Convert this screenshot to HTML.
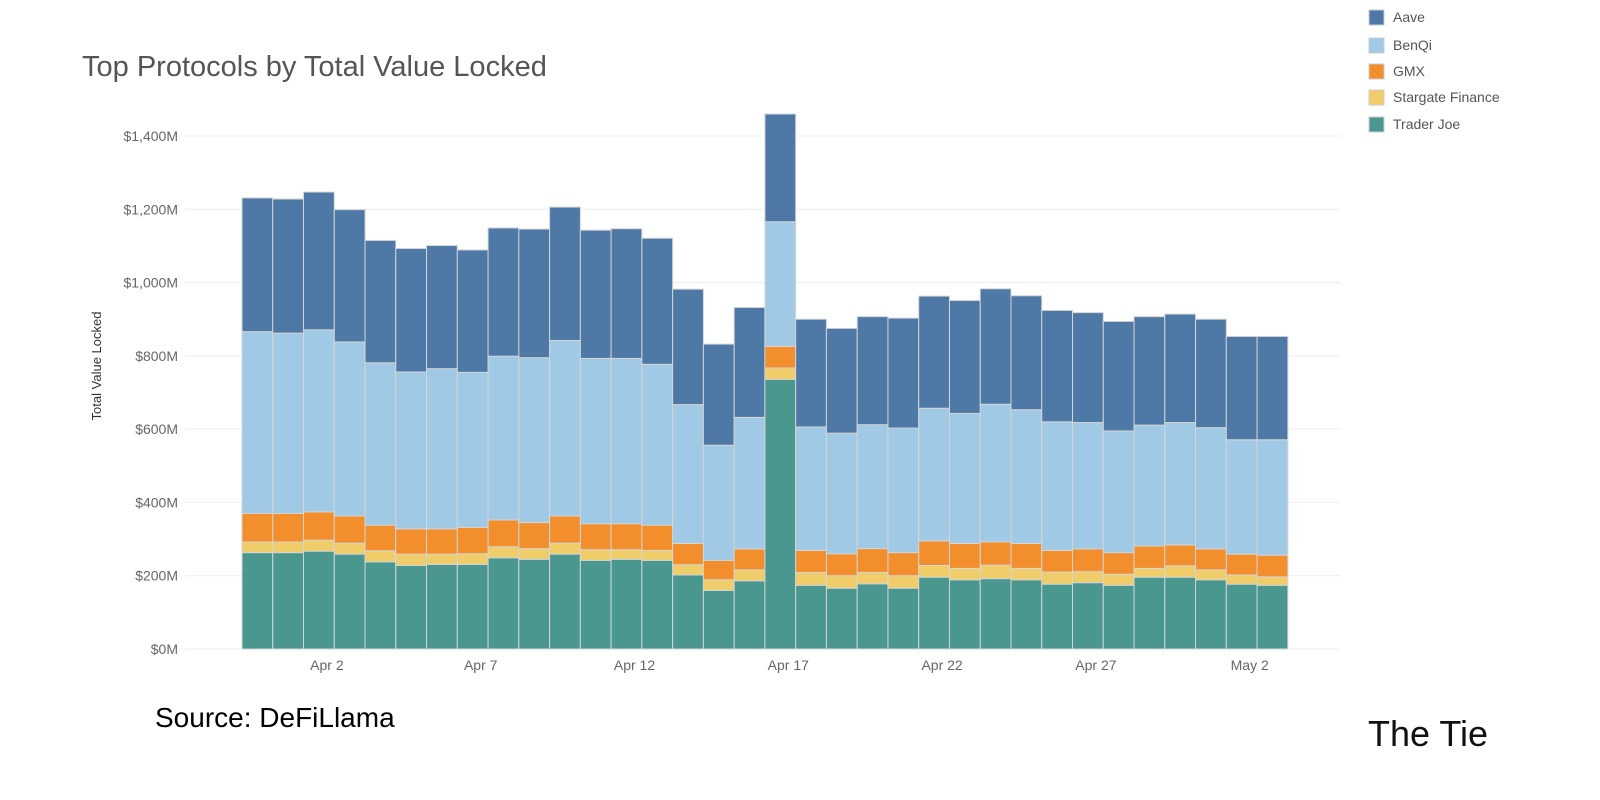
<!DOCTYPE html>
<html><head><meta charset="utf-8"><style>
body{margin:0;background:#fff;width:1600px;height:800px;overflow:hidden;font-family:"Liberation Sans",sans-serif;}
svg{position:absolute;left:0;top:0}
</style></head><body>
<svg id="chart" width="1600" height="800">
<text x="82" y="76" font-size="29" fill="#555">Top Protocols by Total Value Locked</text>
<text transform="translate(101,366) rotate(-90)" text-anchor="middle" font-size="13" fill="#333">Total Value Locked</text>
<g id="grid"></g><g id="bars"></g><g id="xt"></g><g id="legend"></g>
<text x="155" y="727" font-size="28" fill="#000">Source: DeFiLlama</text>
<text x="1368" y="746" font-size="36" fill="#111">The Tie</text>
</svg>
<script>
const dates=["Mar 31","Apr 1","Apr 2","Apr 3","Apr 4","Apr 5","Apr 6","Apr 7","Apr 8","Apr 9","Apr 10","Apr 11","Apr 12","Apr 13","Apr 14","Apr 15","Apr 16","Apr 17","Apr 18","Apr 19","Apr 20","Apr 21","Apr 22","Apr 23","Apr 24","Apr 25","Apr 26","Apr 27","Apr 28","Apr 29","Apr 30","May 1","May 2","May 3"];
const traderJoe=[263,263,267,259,238,228,231,231,249,245,259,242,245,242,202,160,186,736,174,166,178,166,196,189,192,189,177,181,174,196,196,189,177,174];
const stargate=[29,29,30,30,30,31,28,29,30,29,30,29,26,27,28,29,30,31,35,34,31,34,32,31,37,31,33,30,30,24,31,27,25,23];
const gmx=[78,78,77,74,70,69,69,72,73,71,74,71,71,69,58,53,57,59,60,60,65,63,67,68,63,68,59,62,59,61,57,57,57,59];
const benqi=[496,492,497,475,443,428,437,423,447,450,479,451,451,439,379,314,359,340,337,329,338,340,362,355,376,365,351,345,332,330,334,331,312,315];
const aave=[365,366,376,361,334,337,336,334,350,351,364,350,354,344,315,276,300,294,294,286,295,300,306,308,315,311,304,300,299,296,296,296,282,282];
const yTicks=[0,200,400,600,800,1000,1200,1400];
const xLabels=["Apr 2","Apr 7","Apr 12","Apr 17","Apr 22","Apr 27","May 2"];
const seriesNames=["Trader Joe","Stargate Finance","GMX","BenQi","Aave"];
const seriesData=[traderJoe,stargate,gmx,benqi,aave];
const colors=["#4a978f","#f0cd68","#f28e2b","#a0c9e6","#4e79a7"];
const NS="http://www.w3.org/2000/svg";
const y0=649,pxPerM=(649-136)/1400,x0=242,step=30.76;
const Y=v=>y0-v*pxPerM, X=i=>x0+i*step;
function mk(t,a,p){const e=document.createElementNS(NS,t);for(const k in a)e.setAttribute(k,a[k]);p.appendChild(e);return e;}
const grid=document.getElementById('grid');
yTicks.forEach(v=>{
 const l=mk('line',{x1:185,x2:1340,y1:Y(v),y2:Y(v),stroke:"#eee","stroke-width":1},grid);
 
 
 const t=mk('text',{x:178,y:Y(v)+5,"text-anchor":"end","font-size":14,fill:"#666"},grid);
 t.textContent="$"+v.toLocaleString('en-US')+"M";
 
 
});
const bars=document.getElementById('bars');
dates.forEach((d,i)=>{
 let cum=0;
 seriesData.forEach((s,k)=>{
  const top=Y(cum+s[i]),bot=Y(cum);
  const r=mk('rect',{x:X(i),y:top,width:step,height:bot-top,fill:colors[k],stroke:"#d4d4d4","stroke-width":1},bars);
  
  
  cum+=s[i];
 });
});
const xt=document.getElementById('xt');
xLabels.forEach(l=>{
 const i=dates.indexOf(l);
 const t=mk('text',{x:X(i)+step/2+8,y:670,"text-anchor":"middle","font-size":14,fill:"#666"},xt);
 t.textContent=l;
 
 
});
const lg=document.getElementById('legend');
const legOrder=[4,3,2,1,0],legY=[17,45,71,97,124];
legOrder.forEach((k,j)=>{
 const r=mk('rect',{x:1369,y:legY[j]-7,width:15,height:15,fill:colors[k],stroke:"#ccc"},lg);
 
 
 const t=mk('text',{x:1393,y:legY[j]+5,"font-size":14,fill:"#555"},lg);
 t.textContent=seriesNames[k];
 
 
});
</script>
</body></html>
